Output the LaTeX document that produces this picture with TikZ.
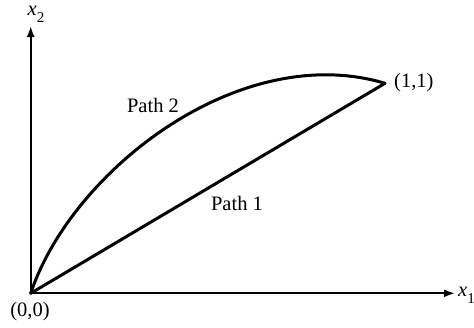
\documentclass[tikz,border=0pt]{standalone}
\usepackage{fontspec}
\setmainfont{Liberation Serif}
\usetikzlibrary{arrows.meta}
\tikzset{
  axis/.style={line width=1.8pt,-{Latex[length=11pt,width=8pt]}},
  pathline/.style={line width=3pt,line cap=round},
  lbl/.style={font=\fontsize{20.5}{24}\selectfont,inner sep=0pt},
}
\newcommand{\varsub}[2]{{\itshape #1}\raisebox{-0.35em}{\fontsize{15}{15}\selectfont #2}}
\begin{document}
\begin{tikzpicture}[x=1pt,y=-1pt]
\useasboundingbox (0,0) rectangle (474,327);
\coordinate (O) at (30.7,293.3);
\coordinate (P) at (385,83.3);
\coordinate (xend) at (455,293.3);
\coordinate (yend) at (30.7,26);
\draw[axis] (O) -- (xend);
\draw[axis] (O) -- (yend);
\draw[pathline] (O) -- (P);
\draw[pathline] (O) .. controls (72,170) and (240,40) .. (P);
\node[lbl,anchor=west] (x1) at (458,295) {\varsub{x}{1}};
\node[lbl] (x2) at (36,14) {\varsub{x}{2}};
\node[lbl] (o) at (30,312) {(0,0)};
\node[lbl,anchor=west] (p) at (394,83) {(1,1)};
\node[lbl] (p2) at (153,105) {Path 2};
\node[lbl] (p1) at (237,203) {Path 1};
\end{tikzpicture}
\end{document}
